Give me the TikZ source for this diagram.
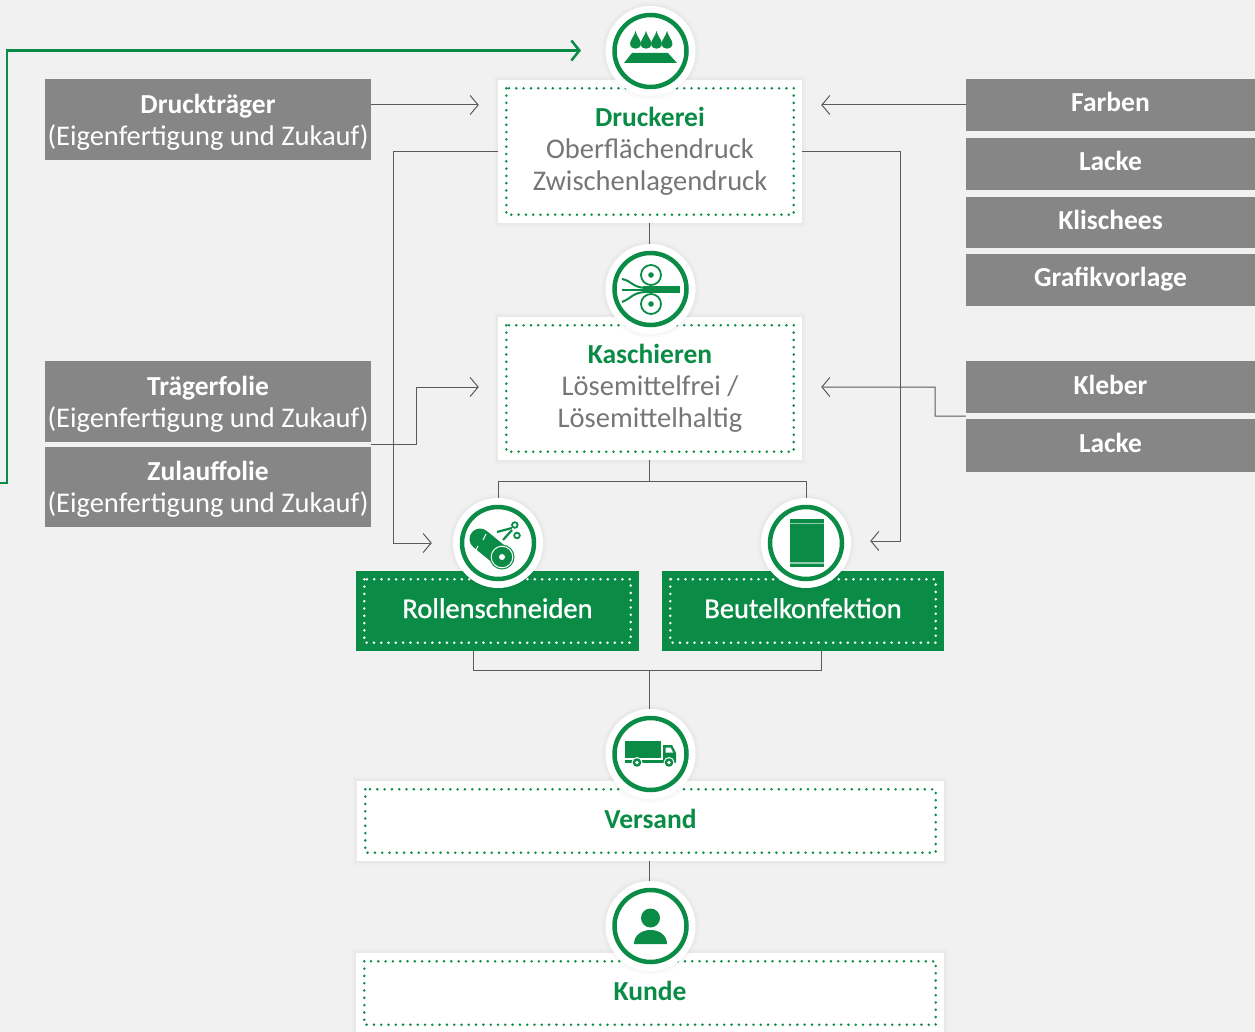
\documentclass[tikz,border=0pt]{standalone}
\usepackage{fontspec}
\setmainfont{Carlito}
\usetikzlibrary{arrows.meta,calc}
\definecolor{bggray}{HTML}{F1F1F1}
\definecolor{gr}{HTML}{0A8C47}
\definecolor{boxgray}{HTML}{868686}
\definecolor{linegray}{HTML}{5A5A5A}
\definecolor{txtgray}{HTML}{767676}
\newcommand{\fs}{\fontsize{28.5}{32}\selectfont}
\newcommand{\ttl}[1]{{\fontsize{27.5}{32}\selectfont\bfseries #1}}
\newcommand{\capline}[1]{\raisebox{0pt}[14pt][0pt]{#1}}
\newcommand{\dn}{\rule{0pt}{24pt}}
\newcommand{\dotbox}[2][gr]{\draw[dots,draw=#1] ([shift={(8.5pt,-8.5pt)}]#2.north west) rectangle ([shift={(-8.5pt,8.5pt)}]#2.south east);}
\tikzset{
  x=1pt,y=-1pt,
  soft/.style={preaction={draw=black,opacity=.015,line width=8pt},preaction={draw=black,opacity=.015,line width=4pt}},
  anybox/.style={rectangle,inner sep=0pt,align=center,font=\fs},
  whitebox/.style={anybox,fill=white,soft,text=txtgray},
  greenbox/.style={anybox,fill=gr,text=white},
  graybox/.style={anybox,fill=boxgray,text=white,minimum width=326pt},
  sidebox/.style={anybox,fill=boxgray,text=white,minimum width=289pt},
  dots/.style={line width=2.8pt,line cap=round,dash pattern=on 0pt off 7.3pt},
  conn/.style={draw=linegray,line width=1pt},
  arr/.style={conn,-{Straight Barb[length=8pt,width=19pt,line width=1pt]}},
  greenarr/.style={draw=gr,line width=2.5pt,-{Straight Barb[length=8pt,width=20pt,line width=2.5pt]}},
  iconc/.style={circle,fill=white,soft,minimum size=90pt,inner sep=0pt},
  ring/.style={draw=gr,line width=4.5pt},
}
\begin{document}
\begin{tikzpicture}
\useasboundingbox (0,0) rectangle (1255,1032);
\clip (0,0) rectangle (1255,1032);
\fill[bggray] (0,0) rectangle (1255,1032);
% central boxes
\node[whitebox,minimum width=304pt,minimum height=143pt] (druck) at (650,151.5) {\textcolor{gr}{\ttl{Druckerei}}\\Oberflächendruck\\Zwischenlagendruck};
\node[whitebox,minimum width=304pt,minimum height=143pt] (kasch) at (650,388.5) {\textcolor{gr}{\ttl{Kaschieren}}\\Lösemittelfrei /\\Lösemittelhaltig};
\node[greenbox,minimum width=283pt,minimum height=80pt] (rollen) at (497.5,611) {\capline{\addfontfeature{FakeBold=1}Rollenschneiden}};
\node[greenbox,minimum width=282pt,minimum height=80pt] (beutel) at (803,611) {\capline{\addfontfeature{FakeBold=1}Beutelkonfektion}};
\node[whitebox,minimum width=587pt,minimum height=80pt] (versand) at (650.5,821) {\capline{\textcolor{gr}{\ttl{Versand}}}};
\node[whitebox,minimum width=588pt,minimum height=80pt] (kunde) at (650,993) {\capline{\textcolor{gr}{\ttl{Kunde}}}};
\dotbox{druck}\dotbox{kasch}\dotbox{versand}\dotbox{kunde}
\dotbox[white]{rollen}\dotbox[white]{beutel}
% left boxes
\node[graybox,minimum height=81pt] (dt) at (208,119.5) {\dn\ttl{Druckträger}\\(Eigenfertigung und Zukauf)};
\node[graybox,minimum height=81pt] (tf) at (208,401.5) {\dn\ttl{Trägerfolie}\\(Eigenfertigung und Zukauf)};
\node[graybox,minimum height=80pt] (zf) at (208,487) {\dn\ttl{Zulauffolie}\\(Eigenfertigung und Zukauf)};
% right boxes
\node[sidebox,minimum height=52pt] (farben) at (1110.5,105) {\capline{\ttl{Farben}}};
\node[sidebox,minimum height=52pt] (lacke) at (1110.5,164) {\capline{\ttl{Lacke}}};
\node[sidebox,minimum height=51pt] (klisch) at (1110.5,222.5) {\capline{\ttl{Klischees}}};
\node[sidebox,minimum height=52pt] (grafik) at (1110.5,280) {\capline{\ttl{Grafikvorlage}}};
\node[sidebox,minimum height=52pt] (kleber) at (1110.5,387) {\capline{\ttl{Kleber}}};
\node[sidebox,minimum height=53pt] (lackeb) at (1110.5,445.5) {\capline{\ttl{Lacke}}};
% icon discs
\node[iconc] (c1) at (650.5,51) {};
\node[iconc] (c2) at (650.5,289) {};
\node[iconc] (c3) at (498,543) {};
\node[iconc] (c4) at (806,543) {};
\node[iconc] (c5) at (650.5,754) {};
\node[iconc] (c6) at (650.5,926) {};
% connectors
\coordinate (gstart) at (0,483);
\coordinate (mergeA) at (649,481);
\coordinate (mergeB) at (649,670);
\draw[greenarr] (gstart) -- (7,483) -- (7,50.5) -- (581,50.5);
\draw[arr] (dt.east |- farben.west) -- ([xshift=-19pt]druck.west |- farben.west);
\draw[arr] (farben.west) -- ([xshift=19pt]druck.east |- farben.west);
\draw[arr] (druck.west) -- (393,151.5) -- (393,543) -- ([xshift=-21pt]c3.west);
\draw[arr] (druck.east) -- (900,151.5) -- (900,541) -- ([xshift=19pt]c4.east |- 0,541);
\draw[conn] (druck.south -| mergeA) -- (c2.north -| mergeA);
\draw[arr] (tf.south east |- 0,444) -- (416,444) -- (416,387) -- ([xshift=-19pt]kasch.west |- 0,387);
\draw[arr] ($(kleber.south west)+(0,-3pt)$) -- (935,416) -- (935,387) -- ([xshift=19pt]kasch.east |- 0,387);
\draw[conn] (kasch.south -| mergeA) -- (mergeA);
\draw[conn] (c3.north) -- (498,481) -- (806,481) -- (c4.north);
\draw[conn] (473,651) -- (473,670) -- (821,670) -- (821,651);
\draw[conn] (mergeB) -- (c5.north -| mergeB);
\draw[conn] (versand.south -| mergeB) -- (c6.north -| mergeB);
% rings
\foreach \c in {c1,c2,c3,c4,c5,c6}{\draw[ring] (\c) circle (36);}
% icon 1 drops
\foreach \xx in {635.5,646,656.5,667}{
  \fill[gr] (\xx,31) .. controls (\xx+1,36) and (\xx+5.4,40) .. (\xx+5.4,43.5) .. controls (\xx+5.4,50.5) and (\xx-5.4,50.5) .. (\xx-5.4,43.5) .. controls (\xx-5.4,40) and (\xx-1,36) .. (\xx,31) -- cycle;
}
\fill[gr] (632,53) -- (668,53) -- (677,63) -- (624,63) -- cycle;
% icon 2 rollers
\foreach \yy in {275,304}{
  \draw[gr,line width=1.8pt] (651,\yy) circle (10);
  \fill[gr] (651,\yy) circle (2.8);
}
\fill[gr] (643,286.5) rectangle (680,293);
\draw[gr,line width=2pt] (622,279) .. controls (632,281) and (632,287) .. (645,288);
\draw[gr,line width=2pt] (622,290) -- (645,290);
\draw[gr,line width=2pt] (622,302) .. controls (632,298) and (632,293) .. (645,292);
% icon 3 roll + scissors
\draw[gr,line width=21pt,line cap=round] (480,539) -- (502,557);
\fill[gr] (502,557) circle (12.5);
\draw[white,line width=1pt] (502,557) circle (10.8);
\fill[white] (502,557) circle (3);
\draw[white,line width=1pt] (478,546) -- (476,550);
\draw[white,line width=1pt] (486,534) -- (483,540);
\begin{scope}[gr,line width=2.2pt]
\draw (497,532) -- (512,528);
\draw (503,540) -- (512,530);
\draw[line width=1.8pt] (514.8,525) circle (2.8);
\draw[line width=1.8pt] (517,535.5) circle (2.8);
\end{scope}
% icon 4 bag
\fill[gr] (790,519) rectangle (824,567);
\fill[white,opacity=.55] (790,522.5) rectangle (824,524);
\fill[white,opacity=.55] (790,562) rectangle (824,563.5);
% icon 5 truck
\fill[gr] (625,741) rectangle (661,758);
\fill[gr] (625,759.5) rectangle (676,763);
\fill[gr] (663,745) -- (672,745) -- (676,753) -- (676,761) -- (663,761) -- cycle;
\fill[white] (665.5,747.5) -- (670.5,747.5) -- (673,752.5) -- (665.5,752.5) -- cycle;
\foreach \xx in {637,669}{
  \fill[white] (\xx,762.5) circle (5.5);
  \fill[gr] (\xx,762.5) circle (4.3);
  \fill[white] (\xx,762.5) circle (1.8);
}
% icon 6 person
\fill[gr] (650.5,918) circle (9.5);
\fill[gr] (634,944) .. controls (634,935) and (642,930) .. (650.5,930) .. controls (659,930) and (667,935) .. (667,944) -- cycle;
\end{tikzpicture}
\end{document}
